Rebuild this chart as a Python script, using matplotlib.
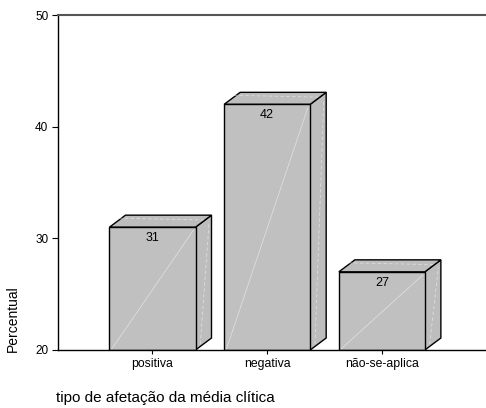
import matplotlib
matplotlib.use("Agg")
import matplotlib.pyplot as plt
from matplotlib.patches import Polygon

plt.rcParams['font.family'] = ['Liberation Sans', 'DejaVu Sans']

categories = ["positiva", "negativa", "não-se-aplica"]
values = [31, 42, 27]
y_ticks = [20, 30, 40, 50]
x_label = "tipo de afetação da média clítica"
y_label = "Percentual"

W, H = 486, 408
fig = plt.figure(figsize=(W / 100, H / 100), dpi=100)
ax = fig.add_axes([58 / W, (H - 350) / H, (W - 58) / W, (350 - 15) / H])

ymin, ymax = 20, 50
xmin, xmax = 0.176, 3.908
ax.set_xlim(xmin, xmax)
ax.set_ylim(ymin, ymax)

# 3-D depth of the bars, expressed in axis pixels
px_x = (xmax - xmin) / (W - 58)
px_y = (ymax - ymin) / (350 - 15)
dx, dy = 16 * px_x, 12 * px_y
width = 0.75
face = "#c0c0c0"
side = "#bdbdbd"

positions = range(1, len(values) + 1)
for pos, v in zip(positions, values):
    x0, x1 = pos - width / 2, pos + width / 2
    front = Polygon([(x0, ymin), (x1, ymin), (x1, v), (x0, v)], closed=True,
                    facecolor=face, edgecolor="black", lw=1.0, zorder=3)
    right = Polygon([(x1, ymin), (x1 + dx, ymin + dy), (x1 + dx, v + dy), (x1, v)],
                    closed=True, facecolor=side, edgecolor="black", lw=1.0, zorder=2)
    top = Polygon([(x0, v), (x1, v), (x1 + dx, v + dy), (x0 + dx, v + dy)],
                  closed=True, facecolor=side, edgecolor="black", lw=1.0, zorder=2)
    for p in (right, top, front):
        ax.add_patch(p)
    # faint highlight strokes on the faces
    ax.plot([x0 + 0.02, x1 - 0.02], [ymin + 0.1, v - 0.3], color="white",
            lw=0.5, alpha=0.55, zorder=4)
    ax.plot([x1 + dx * 0.3, x1 + dx * 0.85], [ymin + dy * 0.5, v + dy * 0.4],
            color="white", lw=0.6, alpha=0.5, ls=(0, (4, 3)), zorder=4)
    ax.plot([x0 + dx * 0.6, x1 + dx * 0.5], [v + dy * 0.75, v + dy * 0.6],
            color="white", lw=0.6, alpha=0.5, ls=(0, (4, 3)), zorder=4)
    ax.text(pos, v - 1.0, f"{v}", ha="center", va="center", fontsize=9,
            color="black", zorder=5)

ax.set_xticks(list(positions))
ax.set_xticklabels(categories, fontsize=8.8)
ax.set_yticks(y_ticks)
ax.set_yticklabels([str(t) for t in y_ticks], fontsize=8.5)
ax.tick_params(axis="x", length=3, width=0.8, pad=2.5)
ax.tick_params(axis="y", length=4, width=0.8, pad=3)

ax.spines["right"].set_visible(False)
ax.spines["top"].set_color("#555555")
ax.spines["top"].set_linewidth(1.5)
ax.spines["left"].set_linewidth(1.0)
ax.spines["bottom"].set_linewidth(1.0)
for s in ("left", "bottom", "top"):
    ax.spines[s].set_zorder(6)

fig.text(13 / W, (H - 352) / H, y_label, rotation=90, ha="center", va="bottom",
         fontsize=10)
fig.text(56 / W, (H - 398) / H, x_label, ha="left", va="center", fontsize=11)

fig.savefig("out.png", dpi=100)
